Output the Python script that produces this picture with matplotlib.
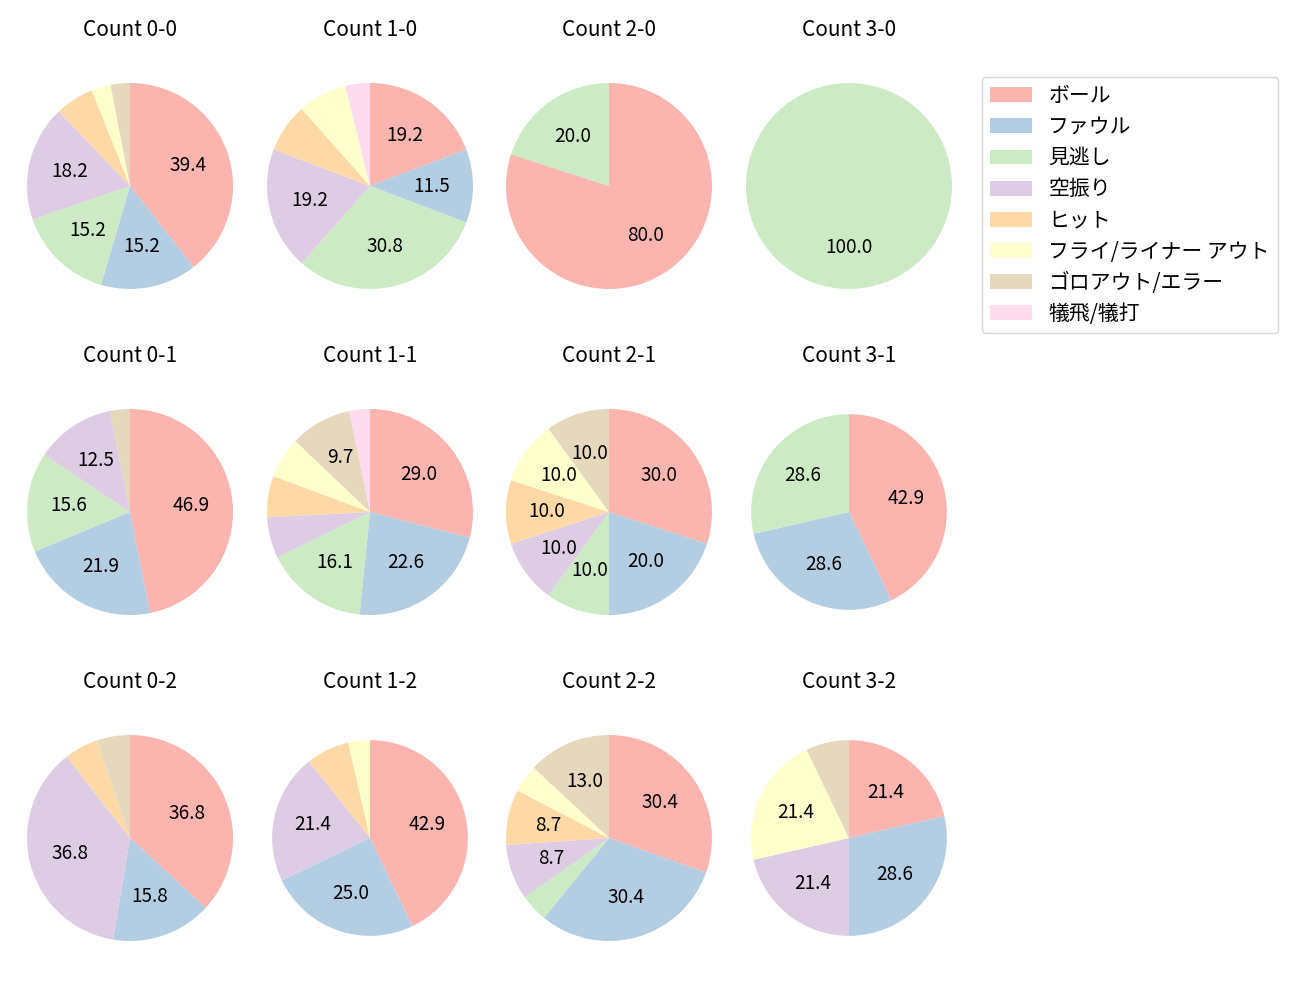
import matplotlib
matplotlib.use("Agg")
import matplotlib.pyplot as plt
from matplotlib.patches import Patch

plt.rcParams['font.family'] = ['Noto Sans CJK JP', 'DejaVu Sans']

categories = ['ボール', 'ファウル', '見逃し', '空振り', 'ヒット',
              'フライ/ライナー アウト', 'ゴロアウト/エラー', '犠飛/犠打']
colors = ['#fbb4ae', '#b3cde3', '#ccebc5', '#decbe4', '#fed9a6',
          '#ffffcc', '#e5d8bd', '#fddaec']

titles = ['Count 0-0', 'Count 1-0', 'Count 2-0', 'Count 3-0',
          'Count 0-1', 'Count 1-1', 'Count 2-1', 'Count 3-1',
          'Count 0-2', 'Count 1-2', 'Count 2-2', 'Count 3-2']

count_0_0 = [13, 5, 5, 6, 2, 1, 1, 0]
count_1_0 = [5, 3, 8, 5, 2, 2, 0, 1]
count_2_0 = [4, 0, 1, 0, 0, 0, 0, 0]
count_3_0 = [0, 0, 1, 0, 0, 0, 0, 0]
count_0_1 = [15, 7, 5, 4, 0, 0, 1, 0]
count_1_1 = [9, 7, 5, 2, 2, 2, 3, 1]
count_2_1 = [3, 2, 1, 1, 1, 1, 1, 0]
count_3_1 = [3, 2, 2, 0, 0, 0, 0, 0]
count_0_2 = [7, 3, 0, 7, 1, 0, 1, 0]
count_1_2 = [12, 7, 0, 6, 2, 1, 0, 0]
count_2_2 = [7, 7, 1, 2, 2, 1, 3, 0]
count_3_2 = [3, 4, 0, 3, 0, 3, 1, 0]

data = [count_0_0, count_1_0, count_2_0, count_3_0,
        count_0_1, count_1_1, count_2_1, count_3_1,
        count_0_2, count_1_2, count_2_2, count_3_2]

# styling: pie radii (some pies are drawn slightly smaller in the reference)
radii = [1.0, 1.0, 1.0, 1.0,
         1.0, 1.0, 1.0, 0.95,
         1.0, 0.95, 1.0, 0.95]

W, H = 1300, 1000
fig = plt.figure(figsize=(13, 10), dpi=100)

col_cx = [130, 370, 609, 849]
row_cy = [186, 512, 838]
side = 257.5  # px, axes square side (radius 103 px at +-1.25 limits)


def autopct(p):
    return f'{p:.1f}' if p > 8 else ''


for i, (vals, title, r) in enumerate(zip(data, titles, radii)):
    row, col = divmod(i, 4)
    cx, cy = col_cx[col], row_cy[row]
    ax = fig.add_axes([(cx - side / 2) / W, 1 - (cy + side / 2) / H, side / W, side / H])
    ax.pie(vals, colors=colors, startangle=90, counterclock=False,
           autopct=autopct, radius=r, pctdistance=0.6,
           textprops={'fontsize': 13.7})
    ax.set_title(title, fontsize=15, pad=15)
    ax.set_xlim(-1.25, 1.25)
    ax.set_ylim(-1.25, 1.25)
    ax.set_aspect('equal')

handles = [Patch(facecolor=c, label=l) for c, l in zip(colors, categories)]
fig.legend(handles=handles, loc='upper left', bbox_to_anchor=(982 / W, 1 - 77 / H),
           fontsize=15, frameon=True, borderaxespad=0, borderpad=0.38,
           handlelength=2.0, handleheight=0.72, labelspacing=0.44,
           handletextpad=0.8)

fig.savefig('out.png', dpi=100)
